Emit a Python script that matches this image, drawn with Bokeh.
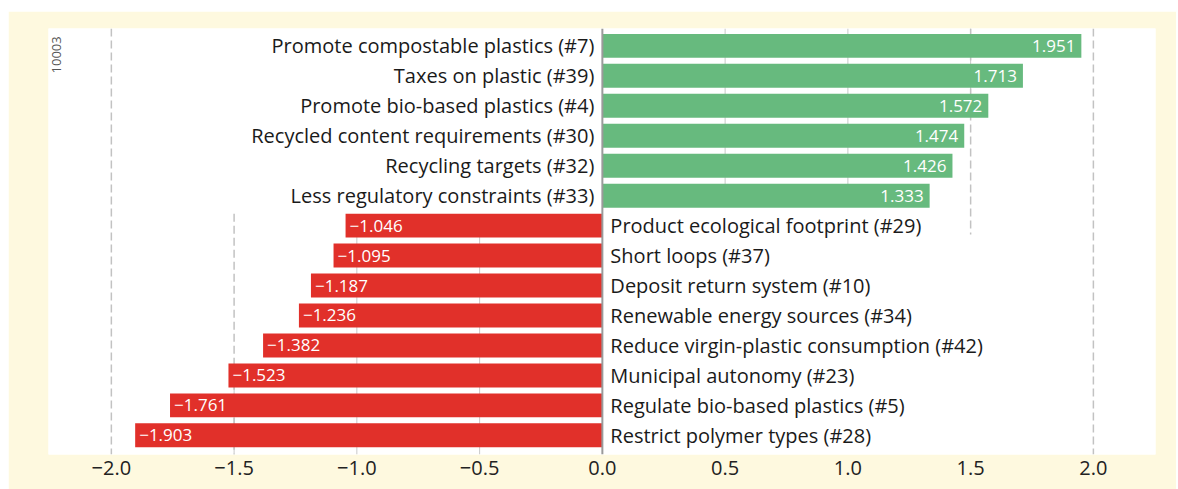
from bokeh.plotting import figure
from bokeh.models import Range1d, FixedTicker, ColumnDataSource, Label, Spacer
from bokeh.layouts import column, row
from bokeh.core.properties import value
from bokeh.embed import file_html
from bokeh.resources import INLINE

labels = ["Promote compostable plastics (#7)", "Taxes on plastic (#39)",
          "Promote bio-based plastics (#4)", "Recycled content requirements (#30)",
          "Recycling targets (#32)", "Less regulatory constraints (#33)",
          "Product ecological footprint (#29)", "Short loops (#37)",
          "Deposit return system (#10)", "Renewable energy sources (#34)",
          "Reduce virgin-plastic consumption (#42)", "Municipal autonomy (#23)",
          "Regulate bio-based plastics (#5)", "Restrict polymer types (#28)"]
values = [1.951, 1.713, 1.572, 1.474, 1.426, 1.333,
          -1.046, -1.095, -1.187, -1.236, -1.382, -1.523, -1.761, -1.903]
ticks = [-2.0, -1.5, -1.0, -0.5, 0.0, 0.5, 1.0, 1.5, 2.0]
tick_labels = ["\u22122.0", "\u22121.5", "\u22121.0", "\u22120.5", "0.0", "0.5", "1.0", "1.5", "2.0"]
corner_note = "10003"

GREEN = "#67BA7E"
RED = "#E1302A"
CREAM = "#FEF9DF"
FONT = "Open Sans"

n = len(values)
y_top, y_bot = -0.58, n - 1 + 0.64

p = figure(width=1168, height=478, output_backend="svg", toolbar_location=None,
           x_range=Range1d(-2.256, 2.253), y_range=Range1d(y_bot, y_top),
           min_border_left=40, min_border_right=21, min_border_top=17, min_border_bottom=35)
p.background_fill_color = "white"
p.border_fill_color = CREAM
p.outline_line_color = None
p.grid.visible = False
p.yaxis.visible = False

ax = p.xaxis[0]
ax.ticker = FixedTicker(ticks=ticks)
ax.major_label_overrides = {t: l for t, l in zip(ticks, tick_labels)}
ax.axis_line_color = None
ax.major_tick_line_color = None
ax.minor_tick_line_color = None
ax.major_label_standoff = 0
ax.major_label_text_font = FONT
ax.major_label_text_font_size = "20px"
ax.major_label_text_color = "#222222"

# faint grid segments visible between adjacent bars
gx, gy0, gy1 = [], [], []
for t in ticks:
    if t == 0:
        continue
    reach = [(v * t > 0) and abs(v) > abs(t) for v in values]
    for i in range(n - 1):
        if reach[i] and reach[i + 1]:
            gx.append(t); gy0.append(i); gy1.append(i + 1)
    if reach[0]:
        gx.append(t); gy0.append(y_top); gy1.append(0)
    if reach[-1]:
        gx.append(t); gy0.append(n - 1); gy1.append(y_bot)
p.segment(x0=gx, x1=gx, y0=gy0, y1=gy1, line_color="#c8c8c8", line_width=1)

# dashed reference lines
pos_end = next(i for i, v in enumerate(values) if v < 0)
rx = [-2.0, 2.0, 1.5, -1.5]
ry0 = [y_top, y_top, y_top, pos_end - 0.4]
ry1 = [y_bot, y_bot, pos_end + 0.3, y_bot]
p.segment(x0=rx, x1=rx, y0=ry0, y1=ry1, line_color="#c2c2c2", line_width=1.5, line_dash="8 4")

ys = list(range(n))
colors = [GREEN if v > 0 else RED for v in values]
src = ColumnDataSource(dict(y=ys, v=values, c=colors))
p.hbar(y="y", left=0, right="v", height=0.8, fill_color="c", line_color=None, source=src)

# zero line
p.segment(x0=[0], x1=[0], y0=[y_top], y1=[y_bot], line_color="#9a9a9a", line_width=2)

pos = [i for i, v in enumerate(values) if v > 0]
neg = [i for i, v in enumerate(values) if v < 0]

def sub(idx):
    return ColumnDataSource(dict(y=[ys[i] for i in idx], v=[values[i] for i in idx],
                                 lab=[labels[i] for i in idx],
                                 vt=[("%.3f" % values[i]).replace("-", "\u2212") for i in idx]))

sp, sn = sub(pos), sub(neg)
p.text(x=0, y="y", text="lab", source=sp, x_offset=-8, text_align="right", text_baseline="middle",
       text_font=value(FONT), text_font_size="20px", text_color="#1a1a1a")
p.text(x=0, y="y", text="lab", source=sn, x_offset=8, text_align="left", text_baseline="middle",
       text_font=value(FONT), text_font_size="20px", text_color="#1a1a1a")
p.text(x="v", y="y", text="vt", source=sp, x_offset=-6, text_align="right", text_baseline="middle",
       text_font=value(FONT), text_font_size="17px", text_color="white")
p.text(x="v", y="y", text="vt", source=sn, x_offset=4, text_align="left", text_baseline="middle",
       text_font=value(FONT), text_font_size="17px", text_color="white")

p.add_layout(Label(x=-2.222, y=0.92, text=corner_note, angle=1.5708,
                   text_font=FONT, text_font_size="13px", text_color="#555555",
                   text_baseline="middle", text_align="left"))

layout = column(Spacer(height=11), row(Spacer(width=8), p))
open("out.html", "w").write(file_html(layout, INLINE))
